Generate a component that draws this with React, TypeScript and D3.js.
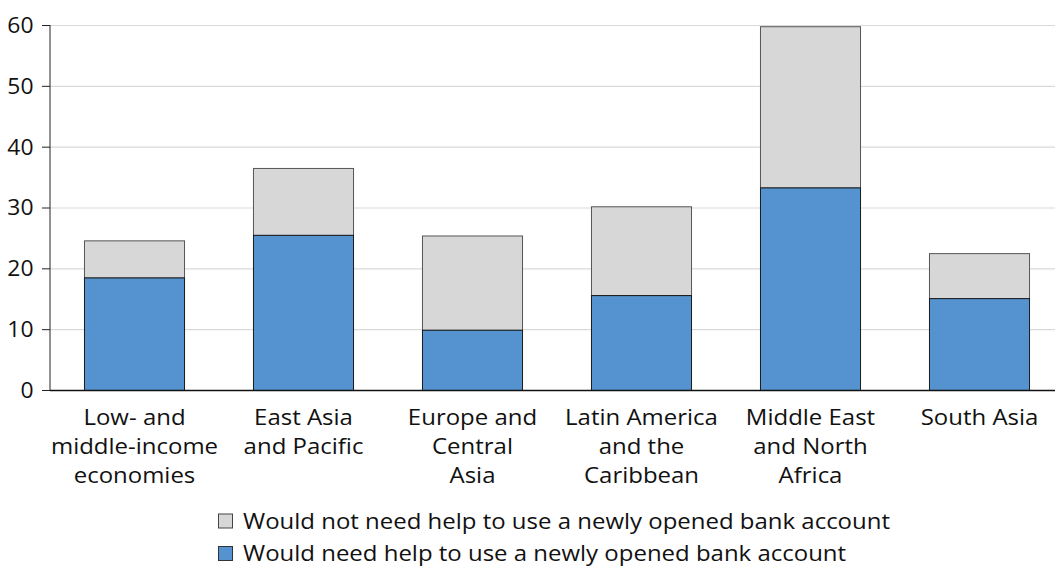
import React from "react";
import * as d3 from "d3";

const categories: string[][] = [
  ["Low- and", "middle-income", "economies"],
  ["East Asia", "and Pacific"],
  ["Europe and", "Central", "Asia"],
  ["Latin America", "and the", "Caribbean"],
  ["Middle East", "and North", "Africa"],
  ["South Asia"],
];
const needHelp = [18.5, 25.5, 9.9, 15.6, 33.3, 15.1];
const notNeedHelp = [6.1, 11.0, 15.5, 14.6, 26.5, 7.4];
const yTicks = [0, 10, 20, 30, 40, 50, 60];
const legendLabels = [
  "Would not need help to use a newly opened bank account",
  "Would need help to use a newly opened bank account",
];

const W = 1055;
const H = 570;
const FONT = "'Open Sans', 'Noto Sans', sans-serif";
const BLUE = "#5493cf";
const GREY = "#d7d7d7";
const SX = 1.09;

export default function App() {
  const x = d3
    .scaleBand<number>()
    .domain(categories.map((_, i) => i))
    .range([50, 1064])
    .paddingInner(0.408)
    .paddingOuter(0.204);
  const y = d3.scaleLinear().domain([0, 60]).range([390.5, 25.5]);
  const bw = x.bandwidth();

  return (
    <svg
      width={W}
      height={H}
      style={{ position: "absolute", left: 0, top: 0, background: "#fff" }}
      fontFamily={FONT}
    >
      {yTicks.map((t) => (
        <g key={t}>
          {t > 0 && (
            <line x1={50} x2={W} y1={y(t)} y2={y(t)} stroke="#d9d9d9" strokeWidth={1.2} />
          )}
          <line x1={42} x2={50} y1={y(t)} y2={y(t)} stroke="#222" strokeWidth={1} />
          <text
            transform={`translate(33.5, ${y(t)}) scale(${SX}, 1)`}
            dy="0.35em"
            textAnchor="end"
            fontSize={21}
            fill="#111"
          >
            {t}
          </text>
        </g>
      ))}
      {categories.map((_, i) => {
        const x0 = x(i)!;
        const b = needHelp[i];
        const tot = b + notNeedHelp[i];
        return (
          <g key={i}>
            <rect x={x0} y={y(tot)} width={bw} height={y(b) - y(tot)} fill={GREY} stroke="#555" strokeWidth={1} />
            <rect x={x0} y={y(b)} width={bw} height={y(0) - y(b)} fill={BLUE} stroke="#1a1a1a" strokeWidth={1} />
          </g>
        );
      })}
      <line x1={50} x2={50} y1={y(60) - 0.5} y2={y(0)} stroke="#222" strokeWidth={1} />
      <line x1={50} x2={W} y1={y(0)} y2={y(0)} stroke="#111" strokeWidth={1.4} />
      {categories.map((lines, i) => (
        <g key={i} transform={`translate(${x(i)! + bw / 2}, 0) scale(${SX}, 1)`}>
          <text textAnchor="middle" fontSize={22} fill="#111">
            {lines.map((l, j) => (
              <tspan key={j} x={0} y={425 + j * 28.8}>
                {l}
              </tspan>
            ))}
          </text>
        </g>
      ))}
      {legendLabels.map((l, i) => (
        <g key={i} transform={`translate(218, ${513.5 + i * 32.5})`}>
          <rect x={0.5} y={0.5} width={14} height={14} fill={i === 0 ? GREY : BLUE} stroke={i === 0 ? "#444" : "#333"} strokeWidth={1} />
          <text transform={`translate(25, 15) scale(${SX}, 1)`} fontSize={22} fill="#111">
            {l}
          </text>
        </g>
      ))}
    </svg>
  );
}
